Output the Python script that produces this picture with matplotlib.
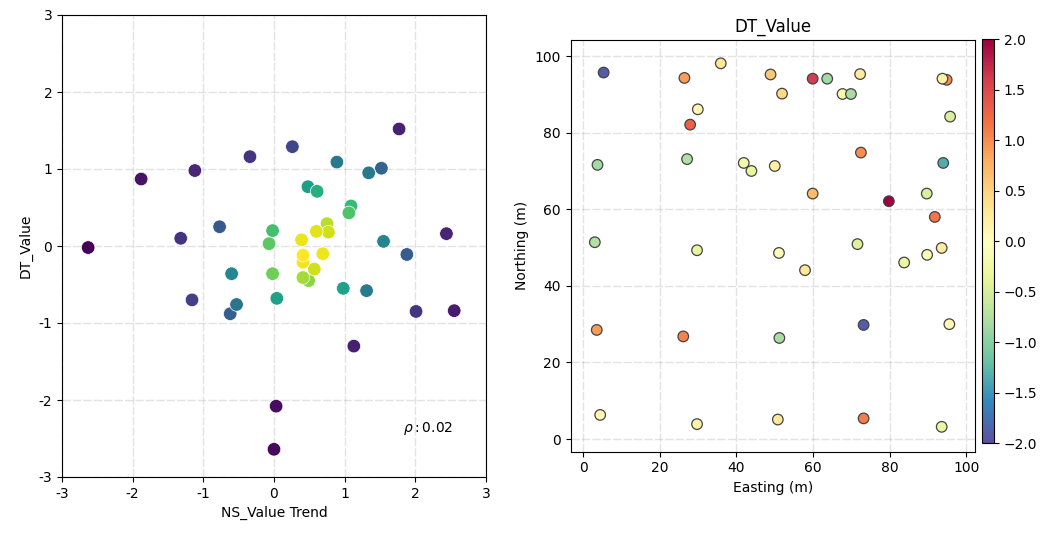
import numpy as np
import matplotlib
matplotlib.use("Agg")
import matplotlib.pyplot as plt

# ---- left panel data: NS_Value Trend vs DT_Value ----
ns_trend = [1.77, 0.26, -0.34, 0.89, -1.12, 1.52, 1.34, -1.88, 0.48, 0.61,
            1.09, 1.06, -0.77, 0.75, -0.02, 0.60, 0.77, -1.32, 2.44, 0.39,
            1.55, -0.07, -2.63, 1.88, 0.41, 0.69, 0.41, 0.57, -0.60, -0.02,
            0.41, 0.49, 0.98, 1.31, -1.16, 0.04, -0.53, -0.62, 2.01, 2.55,
            1.13, 0.03, 0.00]
dt_left = [1.52, 1.29, 1.16, 1.09, 0.98, 1.01, 0.95, 0.87, 0.77, 0.71,
           0.52, 0.43, 0.25, 0.29, 0.20, 0.19, 0.18, 0.10, 0.16, 0.08,
           0.06, 0.03, -0.02, -0.11, -0.12, -0.10, -0.21, -0.30, -0.36, -0.36,
           -0.41, -0.45, -0.55, -0.58, -0.70, -0.68, -0.76, -0.88, -0.85, -0.84,
           -1.30, -2.08, -2.64]
rho_text = r"$\rho: 0.02$"
left_ticks = [-3, -2, -1, 0, 1, 2, 3]
left_ticklabels = ["-3", "-2", "-1", "0", "1", "2", "3"]

# ---- right panel data: map of DT_Value ----
easting = [5.3, 26.4, 35.9, 48.9, 51.9, 59.9, 63.7, 67.7, 69.9, 72.3,
           94.9, 93.8, 95.8, 29.9, 27.9, 72.5, 94.0, 3.7, 27.1, 41.9,
           43.9, 50.0, 59.9, 79.8, 89.7, 91.8, 3.0, 29.7, 51.1, 57.9,
           71.6, 83.8, 89.8, 93.6, 3.5, 26.1, 51.2, 73.2, 95.6, 4.4,
           29.7, 50.8, 73.2, 93.6]
northing = [95.7, 94.3, 98.1, 95.2, 90.2, 94.1, 94.1, 90.1, 90.1, 95.3,
            93.8, 94.1, 84.2, 86.1, 82.1, 74.8, 72.1, 71.6, 73.1, 72.1,
            70.0, 71.3, 64.1, 62.1, 64.1, 58.0, 51.4, 49.3, 48.6, 44.1,
            50.9, 46.1, 48.1, 49.9, 28.5, 26.8, 26.4, 29.8, 30.0, 6.3,
            3.9, 5.1, 5.4, 3.2]
dt_value = [-1.9, 0.9, 0.3, 0.6, 0.45, 1.6, -0.85, -0.2, -0.8, 0.25,
            1.0, 0.2, -0.5, 0.1, 1.3, 1.0, -1.35, -0.85, -0.75, -0.2,
            -0.35, 0.2, 0.7, 2.0, -0.5, 1.15, -0.75, -0.35, 0.05, 0.3,
            -0.45, -0.3, -0.1, 0.25, 0.9, 1.05, -0.8, -1.9, 0.1, 0.1,
            0.15, 0.3, 1.1, -0.3]

# density colouring (gaussian KDE, Scott's rule) for left panel
xy = np.vstack([ns_trend, dt_left])
n = xy.shape[1]
cov = np.cov(xy) * n ** (-2.0 / 6)
inv = np.linalg.inv(cov)
d = xy[:, :, None] - xy[:, None, :]
q = np.einsum('ijk,il,ljk->jk', d, inv, d)
dens = np.exp(-0.5 * q).sum(axis=1)
order = np.argsort(dens)

W, H = 1047, 533
fig = plt.figure(figsize=(W / 100, H / 100), dpi=100)

grid_kw = dict(linestyle=(0, (6, 1.5)), color='gray', alpha=0.22, linewidth=1)

# left axes
ax1 = fig.add_axes([62 / W, (H - 477) / H, 424 / W, 462 / H])
x = np.array(ns_trend)[order]
y = np.array(dt_left)[order]
ax1.scatter(x, y, c=dens[order], cmap='viridis', s=95,
            edgecolors='white', linewidths=0.5, zorder=3)
ax1.set_xlim(-3, 3)
ax1.set_ylim(-3, 3)
ax1.set_xticks(left_ticks)
ax1.set_xticklabels(left_ticklabels)
ax1.set_yticks(left_ticks)
ax1.set_yticklabels(left_ticklabels)
ax1.grid(True, **grid_kw)
ax1.set_xlabel("NS_Value Trend")
ax1.set_ylabel("DT_Value")
ax1.text(0.805, 0.105, rho_text, transform=ax1.transAxes,
         fontsize=10, va='center', ha='left')

# right axes
ax2 = fig.add_axes([570.7 / W, (H - 451.7) / H, 404.3 / W, 411.7 / H])
sc = ax2.scatter(easting, northing, c=dt_value, cmap='Spectral_r',
                 vmin=-2, vmax=2, s=58, edgecolors='#444444',
                 linewidths=0.9, zorder=3)
ax2.set_xlim(-3.3, 102.3)
ax2.set_ylim(-3.3, 104.2)
ax2.set_xticks([0, 20, 40, 60, 80, 100])
ax2.set_yticks([0, 20, 40, 60, 80, 100])
ax2.grid(True, **grid_kw)
ax2.set_xlabel("Easting (m)")
ax2.set_ylabel("Northing (m)")
ax2.set_title("DT_Value")

cax = fig.add_axes([981.7 / W, (H - 443.3) / H, 12.3 / W, 404 / H])
cb = fig.colorbar(sc, cax=cax)
cb.set_ticks([-2.0, -1.5, -1.0, -0.5, 0.0, 0.5, 1.0, 1.5, 2.0])

fig.savefig("out.png", dpi=100)
